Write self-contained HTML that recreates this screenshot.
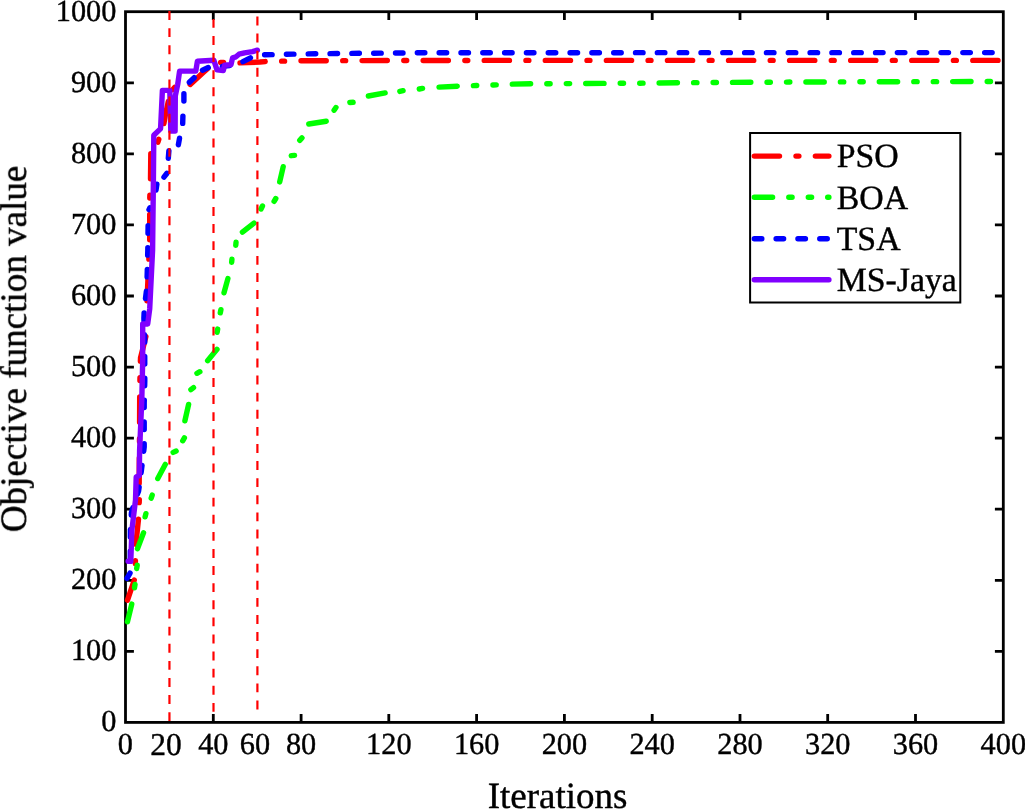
<!DOCTYPE html>
<html><head><meta charset="utf-8"><style>
html,body{margin:0;padding:0;background:#fff;}
body{width:1025px;height:809px;overflow:hidden;}
svg{display:block;font-family:"Liberation Serif",serif;font-size:30.3px;}
</style></head><body>
<svg width="1025" height="809" viewBox="0 0 1025 809" text-rendering="geometricPrecision">
<rect width="1025" height="809" fill="#fff"/>
<rect x="125.5" y="11.7" width="877.8" height="710.7" fill="none" stroke="#000" stroke-width="2.8"/>
<path d="M125.5,651.3h8.4M1003.3,651.3h-8.4M125.5,580.3h8.4M1003.3,580.3h-8.4M125.5,509.2h8.4M1003.3,509.2h-8.4M125.5,438.1h8.4M1003.3,438.1h-8.4M125.5,367.1h8.4M1003.3,367.1h-8.4M125.5,296.0h8.4M1003.3,296.0h-8.4M125.5,224.9h8.4M1003.3,224.9h-8.4M125.5,153.8h8.4M1003.3,153.8h-8.4M125.5,82.8h8.4M1003.3,82.8h-8.4M213.3,722.4v-8.4M213.3,11.7v8.4M301.1,722.4v-8.4M301.1,11.7v8.4M388.8,722.4v-8.4M388.8,11.7v8.4M476.6,722.4v-8.4M476.6,11.7v8.4M564.4,722.4v-8.4M564.4,11.7v8.4M652.2,722.4v-8.4M652.2,11.7v8.4M740.0,722.4v-8.4M740.0,11.7v8.4M827.7,722.4v-8.4M827.7,11.7v8.4M915.5,722.4v-8.4M915.5,11.7v8.4" stroke="#000" stroke-width="2.8" fill="none"/>
<path d="M127.50,600.20 134.30,580.01M135.30,563.55 135.44,560.65M135.97,544.19 136.00,543.00 138.49,519.12M139.19,502.63 139.30,500.00 139.30,499.74M139.20,483.27 139.30,460.00 139.32,458.07M139.48,441.57 139.50,440.00 139.51,438.67M139.58,422.20 139.69,397.00M139.93,380.50 139.98,377.60M140.40,361.14 140.50,358.00 145.85,336.60M146.44,320.12 146.52,317.22M146.98,300.76 147.00,300.00 147.80,283.00 148.13,275.58M148.85,259.10 148.90,258.00 148.98,256.20M149.70,239.75 149.70,214.55M149.79,198.05 149.80,197.00 149.88,195.15M150.51,178.69 150.80,153.70M157.90,142.13 158.80,139.37M163.90,123.50 165.20,116.00 168.30,101.50M172.92,89.57 174.78,87.33M190.20,84.50 203.50,72.30 208.00,68.20M220.66,62.50 223.56,62.43M240.01,62.91 260.00,62.00 265.17,61.57M281.66,61.14 284.56,61.08M301.03,60.80 326.23,60.72M342.73,60.67 345.63,60.66M362.10,60.61 387.30,60.54M403.80,60.50 406.70,60.49M423.17,60.48 448.37,60.45M464.87,60.44 467.77,60.43M484.24,60.42 500.00,60.40 509.44,60.40M525.94,60.40 528.84,60.40M545.31,60.40 570.51,60.40M587.01,60.40 589.91,60.40M606.38,60.40 631.58,60.40M648.08,60.40 650.98,60.40M667.45,60.40 692.65,60.40M709.15,60.40 712.05,60.40M728.52,60.40 753.72,60.40M770.22,60.40 773.12,60.40M789.59,60.40 814.79,60.40M831.29,60.40 834.19,60.40M850.66,60.40 875.86,60.40M892.36,60.40 895.26,60.40M911.73,60.40 936.93,60.40M953.43,60.40 956.33,60.40M972.80,60.40 998.00,60.40" fill="none" stroke="#ff0000" stroke-width="5.4" stroke-linecap="round" stroke-linejoin="round"/>
<path d="M127.44,621.78 131.76,604.12M134.49,587.73 135.01,584.47M136.68,568.53 137.22,565.27M137.46,548.78 143.54,532.82M145.09,516.85 145.91,513.65M151.18,498.17 152.22,495.03M157.76,478.51 165.24,464.39M173.15,452.39 176.15,451.01M182.71,440.77 184.39,437.93M184.89,420.87 188.61,404.43M190.88,389.64 193.52,387.66M196.94,373.27 199.86,371.73M207.61,360.71 216.99,349.29M217.12,332.33 217.68,329.07M220.28,312.87 220.92,309.63M224.01,292.80 227.89,278.60M231.66,262.39 231.94,259.11M235.76,245.39 236.04,242.11M242.42,232.13 253.98,223.07M261.03,208.99 262.47,206.01M274.10,201.31 275.80,198.49M279.70,181.97 283.20,166.73M291.26,155.68 294.54,155.42M299.74,140.32 301.96,137.88M308.77,123.98 326.23,121.22M334.05,110.20 335.95,107.50M349.85,102.48 353.15,102.32M368.35,96.01 385.15,92.89M399.84,91.43 403.06,90.67M419.28,89.02 422.52,88.38M438.99,87.15 457.27,86.23M473.45,85.60 476.75,85.50M492.94,85.02 493.70,85.00 496.24,84.88M512.33,84.17 530.62,83.81M546.82,83.72 550.12,83.70M566.32,83.61 568.60,83.60 569.62,83.59M585.72,83.50 604.02,83.40M620.22,83.31 623.52,83.29M639.72,83.20 640.40,83.20 643.02,83.17M659.12,83.00 677.42,82.81M693.62,82.67 696.92,82.65M713.12,82.52 715.30,82.50 716.42,82.49M732.52,82.40 750.82,82.29M767.02,82.19 770.32,82.18M786.52,82.08 789.82,82.06M805.92,81.98 824.22,81.93M840.42,81.88 843.72,81.87M859.91,81.82 863.21,81.81M879.31,81.76 897.61,81.71M913.81,81.67 917.11,81.67M933.31,81.64 936.61,81.63M952.71,81.60 971.01,81.56M987.21,81.53 990.51,81.52" fill="none" stroke="#00ff00" stroke-width="5.4" stroke-linecap="round" stroke-linejoin="round"/>
<path d="M127.00,578.30 130.04,573.07M130.27,558.79 130.30,551.29M130.37,536.97 130.40,530.00 130.43,529.47M131.27,515.18 131.40,513.00 132.80,507.87M137.34,494.31 138.60,491.00 139.14,487.08M141.07,472.89 141.60,469.00 142.02,465.45M143.70,451.23 144.20,447.00 144.20,443.76M144.20,429.44 144.20,421.94M144.20,407.62 144.20,403.00 144.28,400.12M144.67,385.80 144.80,381.00 144.79,378.30M144.76,363.98 144.74,356.48M144.71,342.16 144.70,338.00 144.51,334.67M143.96,320.36 143.90,318.00 144.11,312.87M145.47,298.62 146.40,291.18M147.11,276.89 147.30,270.00 147.32,269.39M147.67,255.08 147.80,250.00 147.83,247.58M148.00,233.26 148.09,225.76M148.99,209.58 149.91,207.72M156.01,190.03 156.89,184.17M163.94,177.16 166.96,173.24M168.31,158.31 168.89,150.69M178.37,144.84 179.53,138.26M182.69,123.30 182.91,116.10M183.90,101.00 183.90,93.80M189.34,82.32 194.16,77.68M202.45,70.18 208.25,67.52M222.29,66.35 229.61,65.65M242.98,61.73 250.42,57.77M264.60,54.75 272.10,54.59M286.41,54.29 293.91,54.13M308.23,53.90 315.73,53.81M330.05,53.64 337.55,53.55M351.87,53.38 359.37,53.32M373.69,53.19 381.19,53.12M395.51,53.00 403.01,52.93M417.33,52.81 418.00,52.80 424.83,52.79M439.15,52.77 446.65,52.77M460.97,52.75 468.47,52.74M482.79,52.72 490.29,52.71M504.61,52.70 512.11,52.70M526.43,52.69 533.93,52.69M548.25,52.69 555.75,52.69M570.07,52.69 577.57,52.68M591.89,52.68 599.39,52.68M613.71,52.68 621.21,52.68M635.53,52.67 643.03,52.67M657.35,52.67 664.85,52.67M679.17,52.66 686.67,52.66M700.99,52.66 708.49,52.66M722.81,52.66 730.31,52.65M744.63,52.65 752.13,52.65M766.45,52.65 773.95,52.65M788.27,52.64 795.77,52.64M810.09,52.64 817.59,52.64M831.91,52.63 839.41,52.63M853.73,52.63 861.23,52.63M875.55,52.63 883.05,52.62M897.37,52.62 904.87,52.62M919.19,52.62 926.69,52.62M941.01,52.61 948.51,52.61M962.83,52.61 970.33,52.61M984.65,52.60 992.15,52.60" fill="none" stroke="#0000ff" stroke-width="5.4" stroke-linecap="round" stroke-linejoin="round"/>
<polyline points="128.1,561.3 130.8,561.3 131.9,530.0 135.5,500.0 136.2,477.0 139.3,475.5 139.6,450.0 141.8,400.0 142.7,359.6 142.7,324.0 147.7,324.0 149.7,309.0 152.6,250.0 153.4,180.0 153.8,135.2 160.4,128.9 160.6,128.0 162.4,90.4 169.8,90.4 170.8,131.0 175.1,131.0 175.3,96.0 177.7,84.5 179.6,71.1 195.8,71.1 197.4,61.3 213.8,60.2 217.0,69.8 223.3,70.5 224.6,65.3 231.0,64.6 232.6,57.8 236.0,56.8 239.0,54.2 244.5,52.8 252.4,51.6 257.4,50.2" fill="none" stroke="#8000ff" stroke-width="5.4" stroke-linecap="round" stroke-linejoin="round"/>
<line x1="169.45" y1="11.1" x2="169.45" y2="722.4" stroke="#ff0000" stroke-width="2.2" stroke-dasharray="8.9 8.2"/>
<line x1="213.50" y1="18.9" x2="213.50" y2="712.0" stroke="#ff0000" stroke-width="2.2" stroke-dasharray="8.9 8.2"/>
<line x1="257.40" y1="16.5" x2="257.40" y2="712.0" stroke="#ff0000" stroke-width="2.2" stroke-dasharray="8.9 8.2"/>
<rect x="750.1" y="133" width="210.2" height="169.5" fill="#fff" stroke="#000" stroke-width="2"/>
<path d="M754.30,156.10 779.50,156.10M796.00,156.10 798.90,156.10M815.37,156.10 828.90,156.10" fill="none" stroke="#ff0000" stroke-width="5.4" stroke-linecap="round" stroke-linejoin="round"/>
<path d="M754.30,197.20 772.60,197.20M788.80,197.20 792.10,197.20M808.30,197.20 811.60,197.20M827.70,197.20 828.90,197.20" fill="none" stroke="#00ff00" stroke-width="5.4" stroke-linecap="round" stroke-linejoin="round"/>
<path d="M754.30,238.70 761.80,238.70M776.12,238.70 783.62,238.70M797.94,238.70 805.44,238.70M819.76,238.70 827.26,238.70" fill="none" stroke="#0000ff" stroke-width="5.4" stroke-linecap="round" stroke-linejoin="round"/>
<line x1="754.3" y1="279.7" x2="828.9" y2="279.7" stroke="#8000ff" stroke-width="5.4" stroke-linecap="round"/>
<g style="will-change:transform" stroke="#000" stroke-width="0.4">
<text transform="translate(116.40,731.20) scale(1,1.01)" text-anchor="end">0</text>
<text transform="translate(116.40,660.13) scale(1,1.01)" text-anchor="end">100</text>
<text transform="translate(116.40,589.06) scale(1,1.01)" text-anchor="end">200</text>
<text transform="translate(116.40,517.99) scale(1,1.01)" text-anchor="end">300</text>
<text transform="translate(116.40,446.92) scale(1,1.01)" text-anchor="end">400</text>
<text transform="translate(116.40,375.85) scale(1,1.01)" text-anchor="end">500</text>
<text transform="translate(116.40,304.78) scale(1,1.01)" text-anchor="end">600</text>
<text transform="translate(116.40,233.71) scale(1,1.01)" text-anchor="end">700</text>
<text transform="translate(116.40,162.64) scale(1,1.01)" text-anchor="end">800</text>
<text transform="translate(116.40,91.57) scale(1,1.01)" text-anchor="end">900</text>
<text transform="translate(116.40,20.50) scale(1,1.01)" text-anchor="end">1000</text>
<text transform="translate(125.35,754.30) scale(1,1.01)" text-anchor="middle" font-size="30.3">0</text>
<text transform="translate(165.90,754.90) scale(1,1.01)" text-anchor="middle" font-size="31.5">20</text>
<text transform="translate(213.28,754.30) scale(1,1.01)" text-anchor="middle" font-size="30.3">40</text>
<text transform="translate(254.90,754.30) scale(1,1.01)" text-anchor="middle" font-size="30.3">60</text>
<text transform="translate(301.06,754.30) scale(1,1.01)" text-anchor="middle" font-size="30.3">80</text>
<text transform="translate(388.84,754.30) scale(1,1.01)" text-anchor="middle" font-size="30.3">120</text>
<text transform="translate(476.62,754.30) scale(1,1.01)" text-anchor="middle" font-size="30.3">160</text>
<text transform="translate(564.40,754.30) scale(1,1.01)" text-anchor="middle" font-size="30.3">200</text>
<text transform="translate(652.18,754.30) scale(1,1.01)" text-anchor="middle" font-size="30.3">240</text>
<text transform="translate(739.96,754.30) scale(1,1.01)" text-anchor="middle" font-size="30.3">280</text>
<text transform="translate(827.74,754.30) scale(1,1.01)" text-anchor="middle" font-size="30.3">320</text>
<text transform="translate(915.52,754.30) scale(1,1.01)" text-anchor="middle" font-size="30.3">360</text>
<text transform="translate(1003.30,754.30) scale(1,1.01)" text-anchor="middle" font-size="30.3">400</text>
<text x="487.7" y="808.2" font-size="37">Iterations</text>
<text transform="translate(25.9,532.2) rotate(-90)" font-size="37.1">Objective function value</text>
<text transform="translate(836.70,167.20) scale(1,1.01)" font-size="33.8">PSO</text>
<text transform="translate(836.70,208.80) scale(1,1.01)" font-size="33.8">BOA</text>
<text transform="translate(836.70,250.00) scale(1,1.01)" font-size="33.8">TSA</text>
<text transform="translate(836.70,291.00) scale(1,1.01)" font-size="33.8">MS-Jaya</text>
</g>
</svg>
</body></html>
